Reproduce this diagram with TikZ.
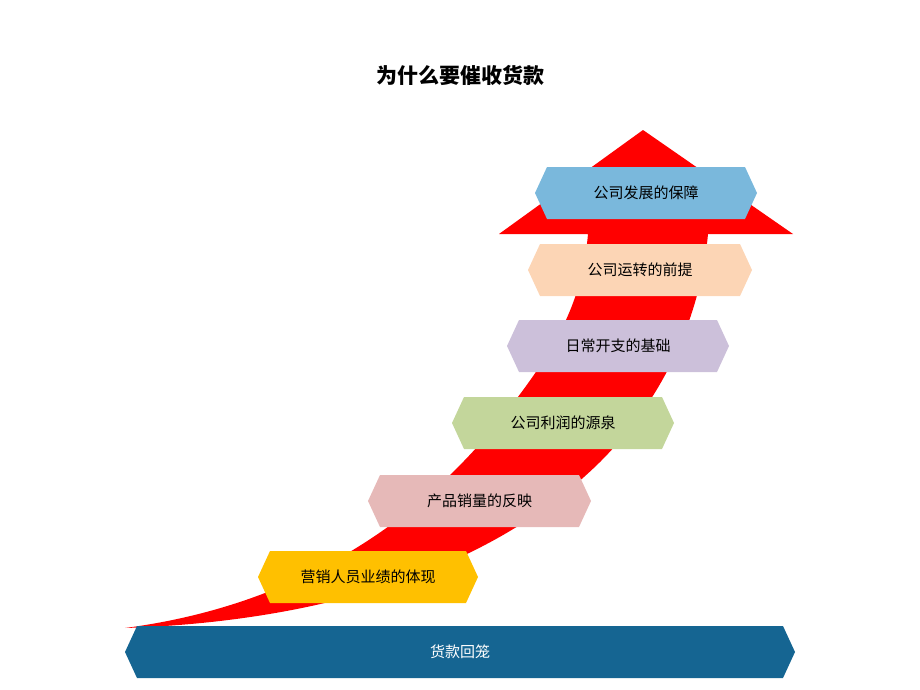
\documentclass[tikz,border=0pt]{standalone}
\usepackage{fontspec}
\setmainfont{Noto Sans CJK SC}
\definecolor{cblue}{HTML}{7AB8DC}
\definecolor{cpeach}{HTML}{FCD5B5}
\definecolor{clav}{HTML}{CCC0DA}
\definecolor{cgreen}{HTML}{C3D69B}
\definecolor{cpink}{HTML}{E6B9B8}
\definecolor{cgold}{HTML}{FFC000}
\definecolor{cbar}{HTML}{156592}
\newcommand{\hexbox}[7]{%
  \fill[#5] (#2,#3+26) -- (#2+12,#3) -- (#4-12,#3) -- (#4,#3+26) -- (#4-12,#3+52) -- (#2+12,#3+52) -- cycle;
  \node[font=\fontsize{15}{15}\selectfont, text=#7] (#1) at ({(#2+#4)/2},#3+26) {#6};}
\begin{document}
\begin{tikzpicture}[x=1pt,y=-1pt]
\useasboundingbox (0,0) rectangle (920,690);
\node[font=\fontsize{21}{21}\selectfont\bfseries] (title) at (460,75) {为什么要催收货款};
% arrow
\fill[red] (125,628) .. controls (300,605) and (420,520) .. (500,420)
  .. controls (560,345) and (582,300) .. (588,234) -- (499,234) -- (643,130) -- (793,234) -- (708,234)
  .. controls (700,320) and (662,400) .. (600,462) .. controls (480,580) and (300,622) .. cycle;
\hexbox{b1}{535}{167}{757}{cblue}{公司发展的保障}{black}
\hexbox{b2}{528}{244}{752}{cpeach}{公司运转的前提}{black}
\hexbox{b3}{507}{320}{729}{clav}{日常开支的基础}{black}
\hexbox{b4}{452}{397}{674}{cgreen}{公司利润的源泉}{black}
\hexbox{b5}{368}{475}{591}{cpink}{产品销量的反映}{black}
\hexbox{b6}{258}{551}{478}{cgold}{营销人员业绩的体现}{black}
\hexbox{bar}{125}{626}{795}{cbar}{货款回笼}{white}
\end{tikzpicture}
\end{document}
